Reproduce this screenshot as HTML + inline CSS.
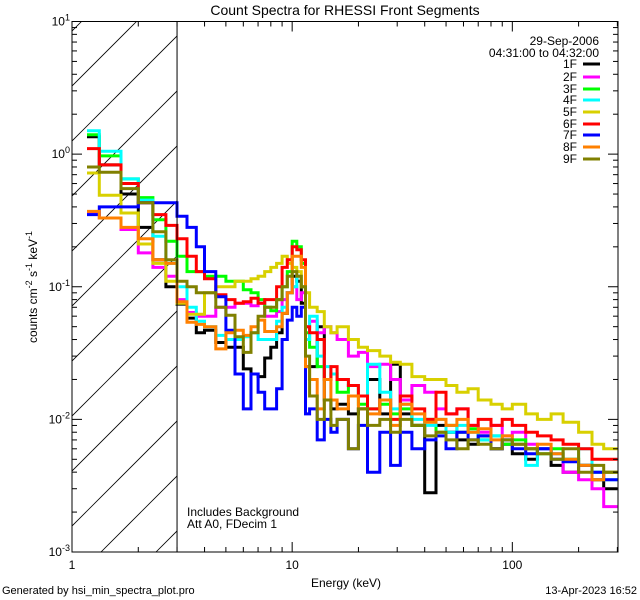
<!DOCTYPE html>
<html><head><meta charset="utf-8"><style>
html,body{margin:0;background:#fff;width:640px;height:600px;overflow:hidden;}
svg{display:block;font-family:"Liberation Sans",sans-serif;}
</style></head><body>
<svg id="chart" width="640" height="600" viewBox="0 0 640 600">
<rect x="0" y="0" width="640" height="600" fill="#fff"/>
<defs><clipPath id="plotclip"><rect x="72" y="21.5" width="546" height="530.5"/></clipPath>
<clipPath id="hatchclip"><rect x="72" y="21.5" width="105" height="530.5"/></clipPath></defs>
<g id="hatch" clip-path="url(#hatchclip)"></g>
<g id="series" clip-path="url(#plotclip)"></g>
<g id="axes"></g>
<text x="345" y="15" font-size="14" text-anchor="middle">Count Spectra for RHESSI Front Segments</text>
<text x="346" y="587" font-size="12" text-anchor="middle">Energy (keV)</text>
<text transform="translate(37,287) rotate(-90)" font-size="12" text-anchor="middle">counts cm<tspan font-size="9" dy="-5">-2</tspan><tspan dy="5"> s</tspan><tspan font-size="9" dy="-5">-1</tspan><tspan dy="5"> keV</tspan><tspan font-size="9" dy="-5">-1</tspan></text>
<text x="187" y="516" font-size="12">Includes Background</text>
<text x="187" y="528" font-size="12">Att A0, FDecim 1</text>
<text x="2" y="594" font-size="11">Generated by hsi_min_spectra_plot.pro</text>
<text x="637" y="594" font-size="11" text-anchor="end">13-Apr-2023 16:52</text>
<text x="599" y="45" font-size="12" text-anchor="end">29-Sep-2006</text>
<text x="599" y="57" font-size="12" text-anchor="end">04:31:00 to 04:32:00</text>
<g id="legend"></g>
</svg>
<script>
const edges=[1.17,1.33,1.67,2,2.33,2.67,3,3.33,3.67,4,4.5,5,5.5,6,6.5,7,7.5,8,8.5,9,9.5,10,10.5,11,11.5,12,13,14,15,16,18,20,22,25,28,31,35,40,45,50,56,63,70,80,90,100,115,130,150,170,200,230,260,300];
const seriesNames=["1F","2F","3F","4F","5F","6F","7F","8F","9F"];
const seriesColors=["#000000","#ff00ff","#00ff00","#00ffff","#d8d000","#ff0000","#0000ff","#ff8000","#808000"];
const s1F=[1.35,0.83,0.5,0.28,0.16,0.1,0.074,0.058,0.045,0.047,0.038,0.035,0.035,0.024,0.022,0.021,0.029,0.035,0.045,0.063,0.09,0.12,0.11,0.075,0.025,0.025,0.05,0.014,0.012,0.013,0.011,0.012,0.02,0.011,0.026,0.011,0.009,0.0028,0.009,0.008,0.007,0.0065,0.0075,0.006,0.0065,0.0055,0.005,0.006,0.0045,0.004,0.0045,0.0035,0.003];
const s2F=[0.36,0.33,0.27,0.18,0.14,0.12,0.08,0.064,0.06,0.06,0.07,0.07,0.075,0.075,0.072,0.075,0.06,0.06,0.065,0.08,0.09,0.1,0.08,0.09,0.05,0.055,0.045,0.05,0.045,0.04,0.03,0.032,0.025,0.026,0.02,0.014,0.018,0.016,0.012,0.011,0.012,0.009,0.008,0.009,0.0075,0.008,0.0065,0.006,0.0055,0.004,0.0035,0.003,0.0022];
const s3F=[1.4,0.97,0.65,0.47,0.32,0.22,0.17,0.13,0.13,0.12,0.12,0.11,0.11,0.095,0.09,0.08,0.07,0.066,0.08,0.1,0.13,0.22,0.2,0.15,0.045,0.035,0.025,0.02,0.022,0.016,0.018,0.013,0.012,0.013,0.011,0.012,0.009,0.01,0.008,0.009,0.008,0.0085,0.007,0.0075,0.0065,0.007,0.006,0.0055,0.006,0.005,0.0045,0.004,0.004];
const s4F=[1.5,1.05,0.65,0.45,0.24,0.15,0.1,0.07,0.055,0.05,0.043,0.04,0.04,0.042,0.045,0.04,0.04,0.04,0.055,0.07,0.09,0.1,0.12,0.1,0.04,0.06,0.03,0.025,0.022,0.02,0.018,0.015,0.026,0.016,0.012,0.013,0.01,0.009,0.01,0.008,0.009,0.008,0.007,0.0075,0.007,0.0065,0.0045,0.006,0.0055,0.005,0.006,0.004,0.0035];
const s5F=[0.72,0.49,0.36,0.21,0.15,0.11,0.075,0.062,0.062,0.09,0.1,0.1,0.11,0.11,0.115,0.12,0.13,0.14,0.15,0.17,0.15,0.14,0.13,0.1,0.09,0.07,0.065,0.05,0.045,0.05,0.04,0.035,0.033,0.03,0.027,0.026,0.021,0.02,0.02,0.018,0.016,0.017,0.014,0.013,0.012,0.013,0.011,0.01,0.011,0.0095,0.008,0.0065,0.006];
const s6F=[1.1,0.83,0.6,0.43,0.35,0.29,0.23,0.17,0.13,0.115,0.087,0.08,0.075,0.077,0.082,0.075,0.08,0.08,0.1,0.14,0.16,0.2,0.19,0.16,0.05,0.045,0.04,0.02,0.025,0.02,0.018,0.015,0.012,0.014,0.01,0.015,0.012,0.01,0.016,0.011,0.012,0.009,0.01,0.009,0.01,0.009,0.008,0.0075,0.007,0.0065,0.006,0.005,0.005];
const s7F=[0.35,0.4,0.4,0.43,0.43,0.43,0.34,0.28,0.2,0.13,0.084,0.047,0.022,0.012,0.022,0.016,0.012,0.012,0.017,0.04,0.056,0.07,0.06,0.07,0.011,0.012,0.007,0.01,0.008,0.01,0.006,0.009,0.004,0.008,0.0045,0.008,0.006,0.007,0.0075,0.006,0.008,0.007,0.0075,0.006,0.007,0.006,0.0055,0.006,0.005,0.0048,0.0045,0.004,0.0035];
const s8F=[0.37,0.33,0.28,0.23,0.16,0.15,0.077,0.054,0.052,0.05,0.034,0.045,0.047,0.043,0.05,0.056,0.046,0.046,0.05,0.063,0.09,0.17,0.17,0.14,0.025,0.02,0.012,0.02,0.014,0.012,0.015,0.012,0.011,0.014,0.009,0.013,0.011,0.0095,0.01,0.009,0.01,0.008,0.0085,0.007,0.0075,0.0065,0.006,0.0065,0.0055,0.005,0.0045,0.0035,0.004];
const s9F=[0.8,0.73,0.55,0.43,0.26,0.16,0.11,0.1,0.09,0.09,0.07,0.061,0.042,0.032,0.045,0.06,0.07,0.07,0.08,0.1,0.12,0.13,0.12,0.1,0.03,0.015,0.01,0.014,0.009,0.01,0.006,0.012,0.009,0.01,0.008,0.01,0.009,0.0075,0.008,0.007,0.006,0.007,0.0065,0.006,0.007,0.0065,0.006,0.0055,0.005,0.006,0.004,0.0045,0.004];
const seriesValues=[s1F,s2F,s3F,s4F,s5F,s6F,s7F,s8F,s9F];
const xTickMajors=[1,10,100];
const xTickLabels=["1","10","100"];
const yTickMajors=[0.001,0.01,0.1,1,10];
const yTickExps=["-3","-2","-1","0","1"];

const NS="http://www.w3.org/2000/svg";
const X0=72,X1=618,Y0=552,Y1=21.5;
const xMinLog=0,xMaxLog=Math.log10(302);
const yMinLog=-3,yMaxLog=1;
function xs(e){return X0+(Math.log10(e)-xMinLog)/(xMaxLog-xMinLog)*(X1-X0);}
function ys(v){return Y0-(Math.log10(v)-yMinLog)/(yMaxLog-yMinLog)*(Y0-Y1);}
function mk(tag,attrs,parent){const el=document.createElementNS(NS,tag);for(const k in attrs)el.setAttribute(k,attrs[k]);parent.appendChild(el);return el;}

const hatch=document.getElementById('hatch');
for(let c=103;c<=177+552+60;c+=55){
  const l=mk('line',{x1:c,y1:0,x2:c-560,y2:560,stroke:'#000','stroke-width':0.8},hatch);
  
  
}
const axes=document.getElementById('axes');
const vl=mk('line',{x1:xs(3),y1:Y1,x2:xs(3),y2:Y0,stroke:'#000','stroke-width':1},axes);



const sg=document.getElementById('series');
seriesValues.forEach((vals,i)=>{
  let d='';
  vals.forEach((v,j)=>{
    const xa=xs(edges[j]),xb=xs(edges[j+1]),y=ys(v);
    d+=(j===0?'M':'L')+xa.toFixed(1)+','+y.toFixed(1)+'L'+xb.toFixed(1)+','+y.toFixed(1);
  });
  const p=mk('path',{d:d,fill:'none',stroke:seriesColors[i],'stroke-width':3,'stroke-linejoin':'miter'},sg);
  
  
});

const fr=mk('rect',{x:X0,y:Y1,width:X1-X0,height:Y0-Y1,fill:'none',stroke:'#000','stroke-width':1},axes);


for(let dec=1;dec<=100;dec*=10){
  for(let m=1;m<=9;m++){
    const e=dec*m; if(e>302)break;
    const x=xs(e),len=(m===1)?10:5;
    mk('line',{x1:x,y1:Y0,x2:x,y2:Y0-len,stroke:'#000'},axes);
    mk('line',{x1:x,y1:Y1,x2:x,y2:Y1+len,stroke:'#000'},axes);
  }
}
xTickMajors.forEach((e,i)=>{
  const t=mk('text',{x:xs(e),y:Y0+17,'font-size':12,'text-anchor':'middle'},axes);
  t.textContent=xTickLabels[i];
  
  
});
for(let p=-3;p<1;p++){
  for(let m=1;m<=9;m++){
    const v=Math.pow(10,p)*m,y=ys(v),len=(m===1)?10:5;
    mk('line',{x1:X0,y1:y,x2:X0+len,y2:y,stroke:'#000'},axes);
    mk('line',{x1:X1,y1:y,x2:X1-len,y2:y,stroke:'#000'},axes);
  }
}
yTickMajors.forEach((v,i)=>{
  const y=ys(v);
  const t=mk('text',{x:X0-2,y:y+4,'font-size':12,'text-anchor':'end'},axes);
  t.innerHTML='10<tspan font-size="9" dy="-5">'+yTickExps[i]+'</tspan>';
  
  
});
const lg=document.getElementById('legend');
const rowsY=[64,77,89,100,112,124,135,147,159];
seriesNames.forEach((n,i)=>{
  const t=mk('text',{x:577,y:rowsY[i]+4,'font-size':12,'text-anchor':'end'},lg);
  t.textContent=n;
  
  
  const l=mk('line',{x1:583,y1:rowsY[i],x2:600,y2:rowsY[i],stroke:seriesColors[i],'stroke-width':3},lg);
  
  
});
</script>
</body></html>
